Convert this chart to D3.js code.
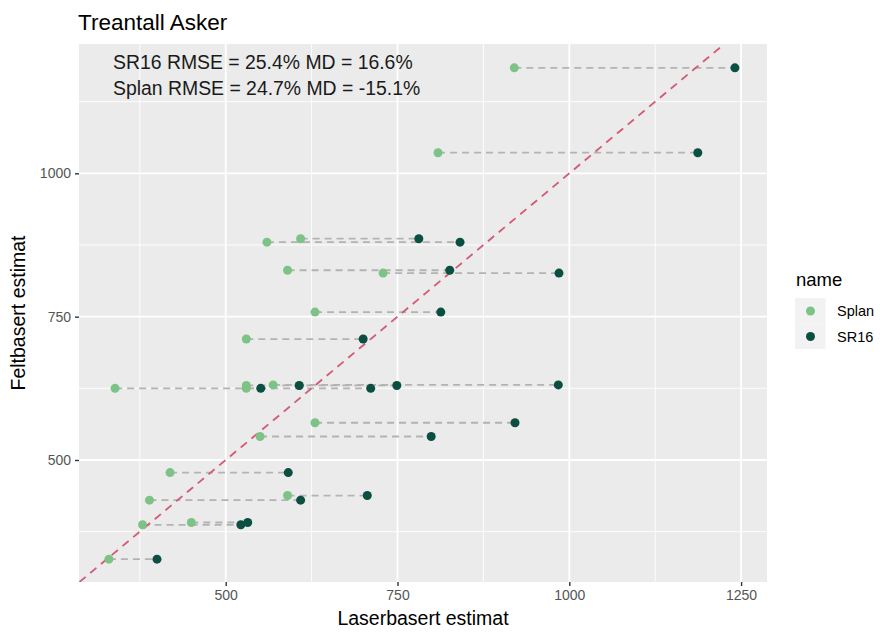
<!DOCTYPE html>
<html>
<head>
<meta charset="utf-8">
<script src="https://cdn.jsdelivr.net/npm/d3@7"></script>
<style>
  html, body { margin: 0; padding: 0; background: #ffffff; }
  svg { display: block; font-family: "Liberation Sans", Arial, Helvetica, sans-serif; }
</style>
</head>
<body>
<svg id="chart" width="880" height="632"></svg>
<script>
// Field-based estimate (y) per stand, with the two laser-based estimates (x)
const feltbasert = [1184, 1036, 880, 886, 831, 826, 758, 711, 625, 625, 630, 630, 631, 565, 541, 478, 430, 438, 387, 391, 327];
const splan      = [ 920,  809, 560, 609, 590, 729, 630, 530, 339, 530, 607, 530, 569, 630, 550, 419, 389, 590, 379, 450, 330];
const sr16       = [1241, 1187, 841, 781, 826, 985, 813, 700, 711, 551, 607, 749, 984, 921, 799, 591, 609, 706, 522, 532, 400];

const seriesNames = ["Splan", "SR16"];
const seriesColors = ["#7cc385", "#0b4f43"];

const xTicks = [500, 750, 1000, 1250];
const yTicks = [500, 750, 1000];
const xMinor = [375, 625, 875, 1125];
const yMinor = [375, 625, 875, 1125];

const titleText = "Treantall Asker";
const statLines = ["SR16 RMSE = 25.4% MD = 16.6%", "Splan RMSE = 24.7% MD = -15.1%"];
const xTitle = "Laserbasert estimat";
const yTitle = "Feltbasert estimat";
const legendTitle = "name";

const svg = d3.select("#chart");
const panel = { left: 79, right: 767, top: 44, bottom: 582 };

const x = d3.scaleLinear().domain([286.5, 1287.7]).range([panel.left, panel.right]);
const y = d3.scaleLinear().domain([287.2, 1225.6]).range([panel.bottom, panel.top]);

// panel background
svg.append("rect")
  .attr("x", panel.left).attr("y", panel.top)
  .attr("width", panel.right - panel.left).attr("height", panel.bottom - panel.top)
  .attr("fill", "#ebebeb");

const grid = svg.append("g");
// minor grid
grid.selectAll(".vmin").data(xMinor).join("line")
  .attr("x1", d => x(d)).attr("x2", d => x(d))
  .attr("y1", panel.top).attr("y2", panel.bottom)
  .attr("stroke", "#ffffff").attr("stroke-width", 0.9);
grid.selectAll(".hmin").data(yMinor).join("line")
  .attr("y1", d => y(d)).attr("y2", d => y(d))
  .attr("x1", panel.left).attr("x2", panel.right)
  .attr("stroke", "#ffffff").attr("stroke-width", 0.9);
// major grid
grid.selectAll(".vmaj").data(xTicks).join("line")
  .attr("x1", d => x(d)).attr("x2", d => x(d))
  .attr("y1", panel.top).attr("y2", panel.bottom)
  .attr("stroke", "#ffffff").attr("stroke-width", 1.8);
grid.selectAll(".hmaj").data(yTicks).join("line")
  .attr("y1", d => y(d)).attr("y2", d => y(d))
  .attr("x1", panel.left).attr("x2", panel.right)
  .attr("stroke", "#ffffff").attr("stroke-width", 1.8);

const rows = feltbasert.map((f, i) => ({ felt: f, splan: splan[i], sr16: sr16[i] }));

const plot = svg.append("g");
plot.append("clipPath").attr("id", "clip")
  .append("rect")
  .attr("x", panel.left).attr("y", panel.top)
  .attr("width", panel.right - panel.left).attr("height", panel.bottom - panel.top);

// connecting segments
plot.selectAll(".seg").data(rows).join("line")
  .attr("x1", d => x(d.splan)).attr("x2", d => x(d.sr16))
  .attr("y1", d => y(d.felt)).attr("y2", d => y(d.felt))
  .attr("stroke", "#b3b3b3").attr("stroke-width", 1.8)
  .attr("stroke-dasharray", "7,5");

// identity line y = x
plot.append("line")
  .attr("clip-path", "url(#clip)")
  .attr("x1", x(y.domain()[0])).attr("y1", y(y.domain()[0]))
  .attr("x2", x(y.domain()[1])).attr("y2", y(y.domain()[1]))
  .attr("stroke", "#d45a73").attr("stroke-width", 1.8)
  .attr("stroke-dasharray", "8,6");

// points
plot.selectAll(".ps").data(rows).join("circle")
  .attr("cx", d => x(d.splan)).attr("cy", d => y(d.felt)).attr("r", 4.5)
  .attr("fill", seriesColors[0]);
plot.selectAll(".pr").data(rows).join("circle")
  .attr("cx", d => x(d.sr16)).attr("cy", d => y(d.felt)).attr("r", 4.5)
  .attr("fill", seriesColors[1]);

// statistics text
svg.selectAll(".stat").data(statLines).join("text")
  .attr("x", 113).attr("y", (d, i) => 68.5 + i * 26.5)
  .attr("font-size", 19.4).attr("fill", "#1a1a1a")
  .text(d => d);

// axes
const xAxis = svg.append("g").attr("transform", `translate(0,${panel.bottom})`)
  .call(d3.axisBottom(x).tickValues(xTicks).tickSize(4).tickPadding(4).tickFormat(d3.format("d")));
xAxis.select(".domain").remove();
xAxis.selectAll("line").attr("stroke", "#333333").attr("stroke-width", 1.4);
xAxis.selectAll("text").attr("font-size", 14).attr("fill", "#555555").attr("font-family", "Liberation Sans, Arial, sans-serif");

const yAxis = svg.append("g").attr("transform", `translate(${panel.left},0)`)
  .call(d3.axisLeft(y).tickValues(yTicks).tickSize(4).tickPadding(4).tickFormat(d3.format("d")));
yAxis.select(".domain").remove();
yAxis.selectAll("line").attr("stroke", "#333333").attr("stroke-width", 1.4);
yAxis.selectAll("text").attr("font-size", 14).attr("fill", "#555555").attr("font-family", "Liberation Sans, Arial, sans-serif");

// titles
svg.append("text").attr("x", 78).attr("y", 29.5)
  .attr("font-size", 22.5).attr("fill", "#000").text(titleText);
svg.append("text").attr("x", (panel.left + panel.right) / 2).attr("y", 625)
  .attr("text-anchor", "middle").attr("font-size", 19.5).attr("fill", "#000").text(xTitle);
svg.append("text")
  .attr("transform", `translate(24.5,${(panel.top + panel.bottom) / 2}) rotate(-90)`)
  .attr("text-anchor", "middle").attr("font-size", 19.5).attr("fill", "#000").text(yTitle);

// legend
const legend = svg.append("g");
legend.append("text").attr("x", 796).attr("y", 286).attr("font-size", 18.5).attr("fill", "#000").text(legendTitle);
const keys = legend.selectAll(".key").data(seriesNames).join("g")
  .attr("transform", (d, i) => `translate(795,${298 + i * 25.5})`);
keys.append("rect").attr("width", 30.5).attr("height", 25.5).attr("fill", "#f2f2f2");
keys.append("circle").attr("cx", 15.5).attr("cy", 13).attr("r", 4.5)
  .attr("fill", (d, i) => seriesColors[i]);
keys.append("text").attr("x", 42).attr("y", 18).attr("font-size", 14.5).attr("fill", "#000").text(d => d);
</script>
</body>
</html>
